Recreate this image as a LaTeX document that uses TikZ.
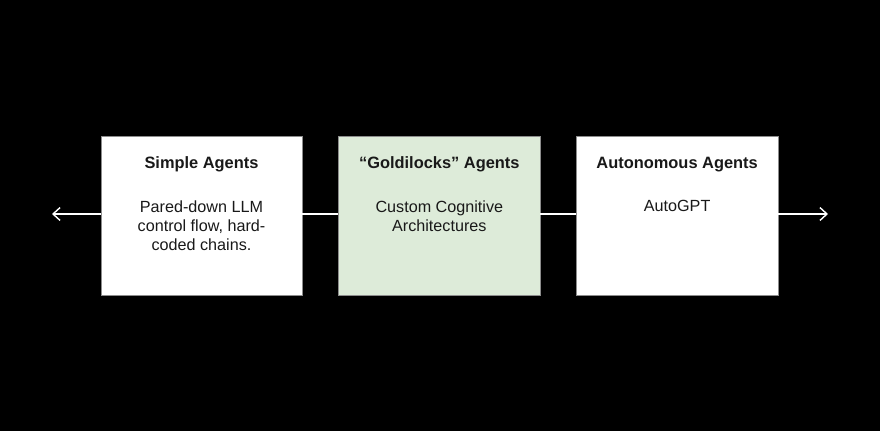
\documentclass[tikz,border=0pt]{standalone}
\usepackage{fontspec}
\setmainfont{Liberation Sans}
\usetikzlibrary{positioning,arrows.meta}
\def\boxsep{1.08cm}
\definecolor{goldgreen}{HTML}{DDEBD9}

\begin{document}
\begin{tikzpicture}[x=0.03cm, y=-0.03cm, node distance=\boxsep, >={Straight Barb[length=6pt,width=11pt]}]
    \tikzstyle{agent}=[rectangle, draw=black!45, fill=white, minimum width=6.04cm, minimum height=4.77cm, inner sep=0pt]
    \tikzstyle{title}=[font=\fontsize{14}{17}\selectfont\bfseries, text=black!90]
    \tikzstyle{body}=[font=\fontsize{13.8}{16.2}\selectfont, text=black!90, align=center, anchor=north, inner sep=0pt]
    \tikzstyle{link}=[draw=white, line width=1.2pt]

    \fill[black] (0,0) rectangle (880,431);
    \useasboundingbox (0,0) rectangle (880,431);

    % Draw the three agent boxes
    \node[agent] (simple) at (201.5,215.5) {};
    \node[agent, fill=goldgreen, right=of simple] (goldi) {};
    \node[agent, right=of goldi] (auto) {};

    % Titles and descriptions
    \node[title] (simple-t) at ([yshift=-0.87cm]simple.north) {Simple Agents};
    \node[title] (goldi-t) at ([yshift=-0.87cm]goldi.north) {“Goldilocks” Agents};
    \node[title] (auto-t) at ([yshift=-0.87cm]auto.north) {Autonomous Agents};
    \node[body] (simple-b) at ([yshift=-1.93cm]simple.north) {Pared-down LLM\\control flow, hard-\\coded chains.};
    \node[body] (goldi-b) at ([yshift=-1.93cm]goldi.north) {Custom Cognitive\\Architectures};
    \node[body] (auto-b) at ([yshift=-1.93cm]auto.north) {AutoGPT};

    % The spectrum line through the boxes
    \coordinate (lend) at (52,214);
    \coordinate (rend) at (828,214);
    \draw[link,->] (lend -| simple.west) -- (lend);
    \draw[link] (simple.east |- lend) -- (goldi.west |- lend);
    \draw[link] (goldi.east |- lend) -- (auto.west |- lend);
    \draw[link,->] (rend -| auto.east) -- (rend);
\end{tikzpicture}
\end{document}
